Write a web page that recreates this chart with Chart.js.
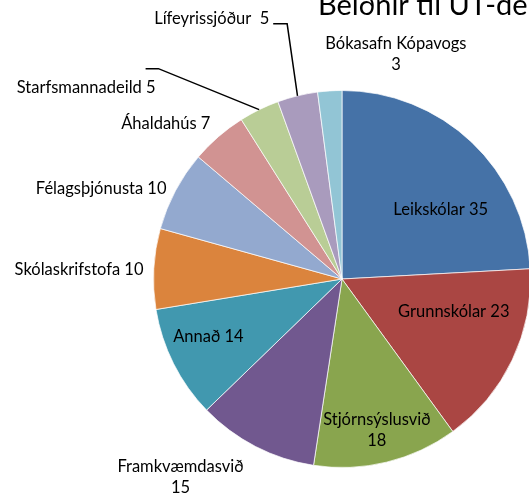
<!DOCTYPE html>
<html>
<head>
<meta charset="utf-8">
<script src="https://cdn.jsdelivr.net/npm/chart.js@4/dist/chart.umd.min.js"></script>
<style>
  html, body { margin: 0; padding: 0; background: #fff; overflow: hidden; }
  #wrap { position: relative; width: 684px; height: 499px; }
</style>
</head>
<body>
<div id="wrap"><canvas id="myChart"></canvas></div>
<script>
const titleText = 'Beiðnir til UT-deildar';
const categories = ['Leikskólar', 'Grunnskólar', 'Stjórnsýslusvið', 'Framkvæmdasvið', 'Annað',
    'Skólaskrifstofa', 'Félagsþjónusta', 'Áhaldahús', 'Starfsmannadeild', 'Lífeyrissjóður', 'Bókasafn Kópavogs'];
const values = [35, 23, 18, 15, 14, 10, 10, 7, 5, 5, 3];
const colors = ['#4572A7', '#AA4643', '#89A54E', '#71588F', '#4198AF',
    '#DB843D', '#93A9CF', '#D19392', '#B9CD96', '#A99BBD', '#92C5D5'];

// label placement, in units of the pie radius from the pie centre
// [dx, dy, align, twoLines, separator]
const labelLayout = [
    [0.524, -0.370, 'center', false, ' '],
    [0.593, 0.175, 'center', false, ' '],
    [0.185, 0.804, 'center', true, ''],
    [-0.857, 1.053, 'center', true, ''],
    [-0.709, 0.307, 'center', false, ' '],
    [-1.053, -0.048, 'right', false, ' '],
    [-0.931, -0.481, 'right', false, ' '],
    [-0.698, -0.825, 'right', false, ' '],
    [-0.989, -1.016, 'right', false, ' '],
    [-0.386, -1.381, 'right', false, '  '],
    [0.286, -1.193, 'center', true, '']
];
// leader lines: [index, startX, startY, elbowX, elbowY] (radius units)
const leaders = [
    [8, -1.042, -1.116, -0.974, -1.116],
    [9, -0.365, -1.354, -0.291, -1.354]
];

const labelPlugin = {
    id: 'sliceLabels',
    afterDatasetsDraw(chart) {
        const ctx = chart.ctx;
        const meta = chart.getDatasetMeta(0);
        ctx.save();
        ctx.fillStyle = '#000';
        ctx.font = '16.5px Lato';
        ctx.textBaseline = 'middle';
        meta.data.forEach((arc, i) => {
            const R = arc.outerRadius;
            const l = labelLayout[i];
            const x = arc.x + l[0] * R;
            const y = arc.y + l[1] * R;
            ctx.textAlign = l[2];
            if (l[3]) {
                ctx.fillText(categories[i], x, y - 10.5);
                ctx.fillText(String(values[i]), x, y + 10.5);
            } else {
                ctx.fillText(categories[i] + l[4] + values[i], x, y);
            }
        });
        // leader lines
        ctx.strokeStyle = '#000';
        ctx.lineWidth = 1.5;
        leaders.forEach(ld => {
            const arc = meta.data[ld[0]];
            const R = arc.outerRadius;
            const mid = (arc.startAngle + arc.endAngle) / 2;
            ctx.beginPath();
            ctx.moveTo(arc.x + ld[1] * R, arc.y + ld[2] * R);
            ctx.lineTo(arc.x + ld[3] * R, arc.y + ld[4] * R);
            ctx.lineTo(arc.x + Math.cos(mid) * R, arc.y + Math.sin(mid) * R);
            ctx.stroke();
        });
        // title
        ctx.font = '29px Lato';
        ctx.textAlign = 'left';
        ctx.textBaseline = 'alphabetic';
        ctx.fillText(titleText, 318, 15);
        ctx.restore();
    }
};

const ctx = document.getElementById('myChart').getContext('2d');
const myChart = new Chart(ctx, {
    type: 'pie',
    data: {
        labels: categories,
        datasets: [{
            data: values,
            backgroundColor: colors,
            borderColor: 'rgba(255,255,255,0.7)',
            borderWidth: 1
        }]
    },
    options: {
        responsive: true,
        maintainAspectRatio: false,
        animation: false,
        layout: {
            padding: { top: 90, bottom: 31, left: 0, right: 0 }
        },
        plugins: {
            legend: { display: false },
            tooltip: { enabled: false },
            title: { display: false }
        }
    },
    plugins: [labelPlugin]
});
</script>
</body>
</html>
